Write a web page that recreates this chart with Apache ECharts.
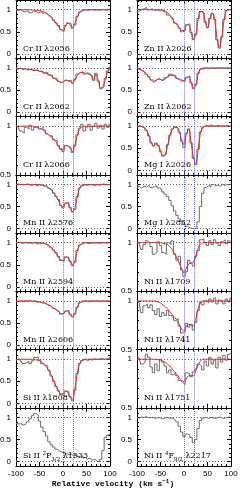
<!DOCTYPE html>
<html><head><meta charset="utf-8">
<script src="https://cdn.jsdelivr.net/npm/echarts@6/dist/echarts.min.js"></script>
<style>html,body{margin:0;padding:0;background:#fff}#c{width:245px;height:490px}</style>
</head><body><div id="c"></div><script>
// velocity grid (km/s)
const velocity = [-100,-95,-90,-85,-80,-75,-70,-65,-60,-55,-50,-45,-40,-35,-30,-25,-20,-15,-10,-5,0,5,10,15,20,25,30,35,40,45,50,55,60,65,70,75,80,85,90,95,100];
const xTickLabels = [-100,-50,0,50,100];
const yTicksFull = [0,0.5,1];
const yTicksHalf = [0.5,1];
const componentVelocities = [0,22];

// Left column
const crII2056Data = [0.97,0.98,1.0,0.96,0.95,0.98,0.93,0.97,0.96,0.93, 0.95,0.92,0.93,0.9,0.86,0.82,0.76,0.7,0.64,0.55, 0.51,0.64,0.7,0.68,0.58,0.66,0.85,0.95,0.98,1.0, 0.98,1.0,1.0,0.99,1.0,0.98,1.0,1.0,0.99,1.0, 1.02];
const crII2056Fit  = [1,1,1,1,1,1,0.995,0.995,0.99,0.985, 0.98,0.97,0.95,0.92,0.87,0.82,0.76,0.7,0.63,0.55, 0.52,0.62,0.7,0.66,0.6,0.68,0.82,0.93,0.98,1, 1,1,1,1,1,1,1,1,1,1, 1];
const crII2062Data = [1.0,0.97,1.0,0.96,0.99,0.95,0.97,0.95,0.94,0.96, 0.92,0.93,0.88,0.9,0.84,0.84,0.77,0.76,0.7,0.66, 0.7,0.73,0.7,0.72,0.66,0.74,0.86,0.9,0.91,0.86, 0.9,0.86,0.82,0.72,0.88,0.7,0.53,0.57,0.76,0.93, 1.02];
const crII2062Fit  = [1.0,0.99,0.99,0.98,0.98,0.97,0.97,0.96,0.95,0.94, 0.93,0.92,0.9,0.88,0.85,0.82,0.78,0.74,0.7,0.67, 0.68,0.72,0.71,0.7,0.66,0.72,0.82,0.88,0.9,0.89, 0.87,0.86,0.82,0.74,0.86,0.72,0.55,0.58,0.75,0.92, 1.0];
const crII2066Data = [1.0,0.99,0.95,0.93,0.99,0.97,1.01,0.96,0.99,1.0, 0.97,0.99,0.96,0.92,0.9,0.9,0.86,0.85,0.8,0.77, 0.74,0.8,0.79,0.78,0.73,0.8,0.91,0.98,1.02,0.95, 0.99,1.02,0.96,1.0,1.03,0.98,1.01,0.97,1.02,0.99, 1.02];
const crII2066Fit  = [1,1,1,1,1,1,1,1,0.995,0.99, 0.98,0.97,0.95,0.93,0.91,0.89,0.87,0.84,0.8,0.76, 0.76,0.8,0.8,0.77,0.74,0.8,0.9,0.97,0.99,1, 1,1,1,1,1,1,1,1,1,1, 1];
const mnII2576Data = [0.99,1.01,1.0,0.99,1.0,1.01,0.99,0.98,1.0,0.97, 0.99,0.98,0.96,0.97,0.91,0.88,0.8,0.73,0.66,0.53, 0.47,0.57,0.6,0.48,0.38,0.44,0.72,0.92,0.97,0.99, 0.98,1.0,0.99,0.97,1.0,0.98,1.0,1.01,0.99,1.0, 1.0];
const mnII2576Fit  = [1,1,1,1,1,1,1,1,1,1, 1,0.99,0.98,0.96,0.92,0.87,0.82,0.74,0.65,0.52, 0.49,0.58,0.58,0.47,0.39,0.45,0.7,0.9,0.98,1, 1,1,1,1,1,1,1,1,1,1, 1];
const mnII2594Data = [1.0,1.01,1.0,0.99,1.01,0.99,1.0,0.98,1.01,0.97, 0.98,0.99,0.98,0.96,0.93,0.88,0.83,0.77,0.69,0.6, 0.58,0.68,0.67,0.58,0.48,0.56,0.82,0.95,0.98,1.0, 0.99,0.98,1.0,0.99,1.0,0.98,1.0,1.0,0.99,1.0, 1.0];
const mnII2594Fit  = [1,1,1,1,1,1,1,1,1,1, 1,0.995,0.99,0.97,0.94,0.9,0.84,0.76,0.68,0.61, 0.6,0.66,0.67,0.58,0.5,0.58,0.8,0.93,0.98,1, 1,1,1,1,1,1,1,1,1,1, 1];
const mnII2606Data = [0.99,0.98,1.0,0.98,1.0,0.99,1.02,0.98,1.0,0.97, 0.98,0.96,0.95,0.93,0.9,0.89,0.83,0.79,0.76,0.7, 0.72,0.77,0.78,0.7,0.64,0.71,0.86,0.96,0.99,1.01, 0.98,0.99,1.0,0.99,1.01,0.98,1.0,0.99,1.0,0.98, 1.0];
const mnII2606Fit  = [1,1,1,1,1,1,1,1,1,0.99, 0.98,0.97,0.96,0.94,0.91,0.88,0.84,0.8,0.76,0.72, 0.71,0.76,0.78,0.71,0.65,0.7,0.85,0.95,0.99,1, 1,1,1,1,1,1,1,1,1,1, 1];
const siII1808Data = [0.98,1.0,0.97,0.9,0.92,0.95,0.9,0.96,1.04,1.05, 0.98,0.9,0.87,0.85,0.75,0.62,0.5,0.38,0.28,0.2, 0.17,0.28,0.27,0.15,0.06,0.3,0.68,0.9,0.97,1.0, 0.96,1.0,0.98,1.01,0.99,1.0,1.02,0.99,1.0,1.01, 1.05];
const siII1808Fit  = [1,1,1,1,1,1,1,0.995,0.99,0.98, 0.96,0.93,0.88,0.82,0.74,0.64,0.52,0.4,0.3,0.22, 0.22,0.27,0.25,0.14,0.09,0.3,0.65,0.88,0.97,1, 1,1,1,1,1,1,1,1,1,1, 1];
const siII1533Data = [0.87,0.85,0.86,0.83,0.84,0.9,0.97,1.04,1.09,1.05, 0.92,0.78,0.68,0.58,0.45,0.38,0.33,0.28,0.24,0.22, 0.2,0.18,0.16,0.17,0.13,0.14,0.11,0.12,0.08,0.09, 0.06,0.07,0.04,0.05,0.01,0.0,0.05,0.25,0.55,0.6, 0.62];

// Right column
const znII2026Data = [0.95,0.97,1.0,1.02,1.05,1.0,1.02,0.98,1.0,0.97, 0.98,0.96,0.94,0.88,0.84,0.8,0.7,0.66,0.58,0.5, 0.52,0.66,0.68,0.48,0.32,0.44,0.8,0.96,0.94,0.72, 0.6,0.8,0.91,0.78,0.32,0.13,0.38,0.78,0.98,1.01, 0.98];
const znII2026Fit  = [1,1,1,1,1,1,1,1,1,1, 1,0.99,0.97,0.93,0.87,0.79,0.71,0.65,0.6,0.53, 0.53,0.64,0.66,0.5,0.34,0.42,0.78,0.95,0.95,0.75, 0.58,0.78,0.93,0.8,0.35,0.15,0.35,0.75,0.97,1, 1];
const znII2062Data = [1.0,0.98,0.94,0.92,0.85,0.8,0.73,0.7,0.73,0.76, 0.72,0.73,0.78,0.8,0.86,0.84,0.83,0.76,0.74,0.72, 0.69,0.78,0.82,0.66,0.53,0.62,0.88,0.97,0.98,0.99, 0.98,1.0,0.99,0.99,1.0,0.99,1.0,0.99,1.0,0.99, 0.98];
const znII2062Fit  = [0.99,0.97,0.95,0.92,0.87,0.8,0.72,0.68,0.7,0.75, 0.74,0.72,0.75,0.8,0.83,0.83,0.81,0.77,0.73,0.7, 0.71,0.79,0.8,0.68,0.55,0.6,0.85,0.98,1,1, 1,1,1,1,1,1,1,1,1,1, 1];
const mgI2026Data  = [1.0,1.01,0.99,0.97,0.9,0.78,0.62,0.55,0.62,0.56, 0.42,0.32,0.36,0.58,0.8,0.94,0.99,0.96,0.86,0.66, 0.52,0.84,0.94,0.62,0.27,0.13,0.48,0.87,0.98,1.02, 1.0,1.03,1.01,1.0,1.02,1.0,1.01,1.0,1.02,1.0, 1.01];
const mgI2026Fit   = [1,1,1,0.98,0.92,0.8,0.65,0.56,0.6,0.58, 0.45,0.34,0.36,0.55,0.78,0.92,0.97,0.97,0.88,0.68, 0.58,0.82,0.92,0.65,0.3,0.15,0.45,0.85,0.97,1, 1,1,1,1,1,1,1,1,1,1, 1];
const mgI2852Data  = [0.93,0.95,0.92,0.96,0.94,0.98,0.93,0.95,0.97,0.92, 0.9,0.83,0.78,0.73,0.64,0.52,0.4,0.3,0.22,0.15, 0.1,0.05,0.02,0.0,0.0,0.01,0.15,0.5,0.8,0.93, 0.97,0.95,1.0,0.97,0.99,0.96,1.0,0.98,1.0,0.99, 1.02];
const niII1709Data = [1.01,0.99,0.93,0.98,1.02,1.0,0.96,0.88,0.9,1.01, 0.97,0.9,0.88,1.0,0.98,1.02,0.88,0.82,0.86,0.72, 0.65,0.7,0.82,0.79,0.76,0.86,0.92,1.03,1.04,1.0, 0.97,1.02,0.98,1.03,1.0,0.97,1.01,1.03,0.99,1.02, 1.01];
const niII1709Fit  = [1,1,1,1,1,1,1,1,1,1, 1,0.995,0.99,0.98,0.96,0.93,0.89,0.84,0.79,0.73, 0.69,0.74,0.78,0.79,0.8,0.86,0.94,0.98,1,1, 1,1,1,1,1,1,1,1,1,1, 1];
const niII1741Data = [1.0,0.98,0.88,0.95,0.97,0.93,0.96,0.9,0.86,0.92, 0.84,0.88,0.85,0.9,0.85,0.84,0.8,0.82,0.74,0.67, 0.68,0.77,0.73,0.76,0.7,0.78,0.9,0.99,0.96,1.0, 0.98,1.02,0.99,1.03,0.97,1.01,1.0,0.97,1.02,0.99, 1.03];
const niII1741Fit  = [1,1,1,1,1,1,1,1,1,0.99, 0.98,0.96,0.94,0.92,0.89,0.86,0.83,0.8,0.76,0.71, 0.69,0.74,0.76,0.75,0.74,0.82,0.92,0.98,1,1, 1,1,1,1,1,1,1,1,1,1, 1];
const niII1751Data = [1.03,1.01,0.95,0.97,1.05,1.02,0.92,0.86,0.95,0.88, 1.0,0.97,0.93,0.86,0.89,0.84,0.86,0.83,0.78,0.76, 0.74,0.86,0.85,0.82,0.87,0.9,0.95,0.93,0.89,0.98, 0.93,1.02,0.95,0.99,0.91,1.02,0.97,1.04,0.99,1.05, 1.06];
const niII1751Fit  = [1,1,1,1,1,1,1,1,1,0.995, 0.99,0.98,0.97,0.95,0.93,0.9,0.87,0.84,0.81,0.78, 0.77,0.8,0.83,0.83,0.83,0.88,0.94,0.98,1,1, 1,1,1,1,1,1,1,1,1,1, 1];
const niII2217Data = [0.98,0.99,1.01,1.0,1.02,0.99,1.0,0.99,0.98,1.0, 0.99,0.97,0.99,1.0,0.98,0.99,0.96,0.9,0.8,0.67, 0.57,0.62,0.6,0.55,0.43,0.5,0.75,0.93,0.99,1.0, 0.98,1.0,0.99,0.98,1.0,1.01,0.98,0.99,1.0,1.01, 0.99];

const panelLabels = [
  '{b|Cr II λ2056}','{b|Cr II λ2062}','{b|Cr II λ2066}','{b|Mn II λ2576}','{b|Mn II λ2594}','{b|Mn II λ2606}','{b|Si II λ1808}','{b|Si II }{sup|2}{b|P}{sub|3/2}{b| λ1533}',
  '{b|Zn II λ2026}','{b|Zn II λ2062}','{b|Mg I λ2026}','{b|Mg I λ2852}','{b|Ni II λ1709}','{b|Ni II λ1741}','{b|Ni II λ1751}','{b|Ni II }{sup|4}{b|F}{sub|9/2}{b| λ2217}'
];
const panelData = [crII2056Data,crII2062Data,crII2066Data,mnII2576Data,mnII2594Data,mnII2606Data,siII1808Data,siII1533Data,
  znII2026Data,znII2062Data,mgI2026Data,mgI2852Data,niII1709Data,niII1741Data,niII1751Data,niII2217Data];
const panelFit = [crII2056Fit,crII2062Fit,crII2066Fit,mnII2576Fit,mnII2594Fit,mnII2606Fit,siII1808Fit,null,
  znII2026Fit,znII2062Fit,mgI2026Fit,null,niII1709Fit,niII1741Fit,niII1751Fit,null];
const halfRange = [false,false,true,false,false,false,false,false, false,false,false,false,true,true,true,false];

const FONT = 'Liberation Sans';
const LFONT = 'DejaVu Serif';
const colLeft = [16,137], W = 94, H = 58.25, T0 = 0;
const grids=[], xAxes=[], yAxes=[], series=[], graphics=[];
const pair = arr => velocity.map((v,k)=>[v,arr[k]]);
const black = {color:'#000',width:1};
const labelRich = {
  b:{fontSize:8,fontFamily:LFONT,color:'#000',lineHeight:12,verticalAlign:'middle'},
  sup:{fontSize:5.5,fontFamily:LFONT,color:'#000',lineHeight:6,verticalAlign:'top'},
  sub:{fontSize:5.5,fontFamily:LFONT,color:'#000',lineHeight:6,verticalAlign:'bottom'}
};

for (let i=0;i<16;i++){
  const col = Math.floor(i/8), row = i%8;
  const left = colLeft[col], top = T0 + H*row;
  const half = halfRange[i];
  const ymin = half?0.5:-0.1, ymax = half?1.1:1.22;
  grids.push({left, top, width:W, height:H, containLabel:false, outerBoundsMode:'none'});
  const xb = xAxes.length;
  ['bottom','top'].forEach(pos=>{
    xAxes.push({gridIndex:i, type:'value', position:pos, min:-100, max:100, interval:50,
      axisLine:{show:true,onZero:false,lineStyle:black},
      axisTick:{show:true,inside:true,length:4,lineStyle:black},
      minorTick:{show:true,splitNumber:5,length:2,lineStyle:black},
      axisLabel:{show: pos==='bottom' && row===7, fontSize:8, color:'#000', margin:4, fontFamily:FONT},
      splitLine:{show:false}, minorSplitLine:{show:false}});
  });
  const yb = yAxes.length;
  ['left','right'].forEach(pos=>{
    yAxes.push({gridIndex:i, type:'value', position:pos, min:ymin, max:ymax,
      axisLine:{show:true,onZero:false,lineStyle:black},
      axisTick:{show:true,inside:true,length:4,lineStyle:black, customValues: half?yTicksHalf:yTicksFull},
      axisLabel:{show: pos==='left', customValues: half?yTicksHalf:yTicksFull, fontSize:8, color:'#000', margin:5, fontFamily:FONT},
      splitLine:{show:false}});
    yAxes.push({gridIndex:i, type:'value', position:pos, min:ymin, max:ymax, interval:0.1,
      axisLine:{show:false,onZero:false},
      axisTick:{show:true,inside:true,length:2,lineStyle:black},
      axisLabel:{show:false}, splitLine:{show:false}});
  });
  const ml = [{yAxis:1, lineStyle:{color:'#666',type:[1,2],width:1}}];
  if (!half) ml.push({yAxis:0, lineStyle:{color:'#666',type:[1,2],width:1}});
  componentVelocities.forEach(v=>ml.push({xAxis:v, lineStyle:{color:'#6b6bff',type:'dotted',width:1}}));
  series.push({type:'line', xAxisIndex:xb, yAxisIndex:yb+1, data:pair(panelData[i]), step:'middle',
    showSymbol:false, silent:true, animation:false, lineStyle:{color:'#6a6a6a',width:1}, z:2,
    markLine:{silent:true, symbol:'none', animation:false, label:{show:false}, data:ml}});
  if (panelFit[i]) {
    series.push({type:'line', xAxisIndex:xb, yAxisIndex:yb+1, data:pair(panelFit[i]), smooth:0.35,
      showSymbol:false, silent:true, animation:false, lineStyle:{color:'#e8282a',width:1}, z:3});
  }
  graphics.push({type:'text', silent:true, z:10, style:{text:panelLabels[i], x:left+7, y:top+H-9.6,
    fontSize:8, fontFamily:LFONT, fill:'#000', verticalAlign:'middle', rich:labelRich}});
}
graphics.push({type:'text', silent:true, style:{text:'{b|Relative velocity (km s}{sup|−1}{b|)}', x:113, y:484,
  fill:'#000', align:'center', verticalAlign:'middle',
  rich:{b:{fontSize:8,fontFamily:'Liberation Mono',fontWeight:'bold',color:'#000',lineHeight:12,verticalAlign:'middle'},
        sup:{fontSize:6,fontFamily:'Liberation Mono',fontWeight:'bold',color:'#000',lineHeight:6,verticalAlign:'top'}}}});

const chart = echarts.init(document.getElementById('c'), null, {renderer:'canvas'});
chart.setOption({animation:false, backgroundColor:'#fff', grid:grids, xAxis:xAxes, yAxis:yAxes, series, graphic:graphics});
</script></body></html>
